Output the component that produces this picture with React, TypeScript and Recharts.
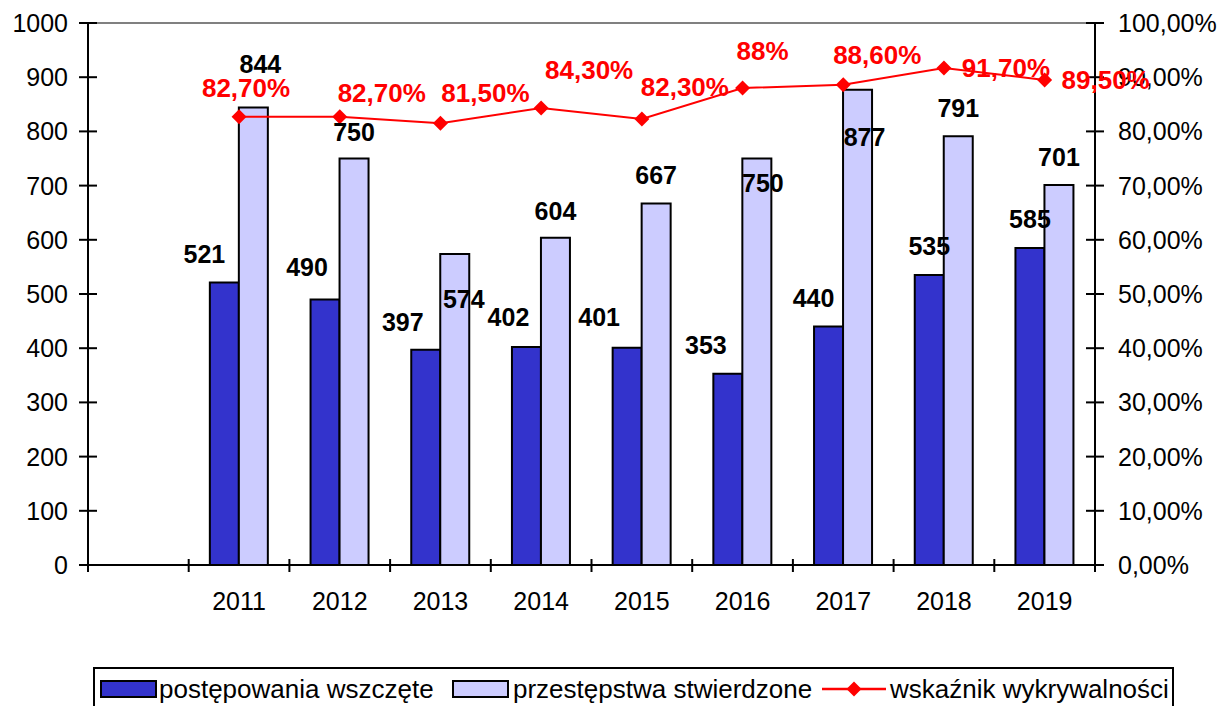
import React from 'react';
import { ComposedChart, Bar, Line, XAxis, YAxis, ReferenceLine, LabelList } from 'recharts';

// ---- data ----
const categories = ['', '2011', '2012', '2013', '2014', '2015', '2016', '2017', '2018', '2019'];
const postepowaniaWszczete = [null, 521, 490, 397, 402, 401, 353, 440, 535, 585];
const przestepstwaStwierdzone = [null, 844, 750, 574, 604, 667, 750, 877, 791, 701];
const wskaznikWykrywalnosci = [null, 0.827, 0.827, 0.815, 0.843, 0.823, 0.88, 0.886, 0.917, 0.895];
const wskaznikLabels = ['', '82,70%', '82,70%', '81,50%', '84,30%', '82,30%', '88%', '88,60%', '91,70%', '89,50%'];
const leftTicks = [0, 100, 200, 300, 400, 500, 600, 700, 800, 900, 1000];
const rightTicks = [0, 0.1, 0.2, 0.3, 0.4, 0.5, 0.6, 0.7, 0.8, 0.9, 1];

// label placement offsets (dx, dy) relative to bar top centre / line point, as placed in the source
const darkLabelShift: [number, number][] = [[0, 0], [-20, -29], [-18, -32], [-23, -28], [-18, -30], [-28, -31], [-22, -29], [-15, -29], [0, -29], [0, -29]];
const lightLabelShift: [number, number][] = [[0, 0], [7, -44], [0, -27], [9, 45], [0, -27], [0, -28], [6, 24], [7, 47], [0, -28], [0, -28]];
const lineLabelShift: [number, number][] = [[0, 0], [7, -29], [42, -24], [45, -30], [48, -38], [43, -32], [20, -37], [34, -30], [62, 0], [61, 0]];

const data = categories.map((c, i) => ({
  year: c,
  wszczete: postepowaniaWszczete[i],
  stwierdzone: przestepstwaStwierdzone[i],
  wskaznik: wskaznikWykrywalnosci[i],
}));

// ---- layout ----
const W = 1224;
const H = 706;
const MARGIN = { top: 23, right: 49, bottom: 101, left: 8 };
const Y_W = 80;
const X_H = 40;
const PLOT_LEFT = MARGIN.left + Y_W;
const PLOT_W = W - MARGIN.left - MARGIN.right - 2 * Y_W;
const BAND = PLOT_W / categories.length;
const FONT = '"Liberation Sans", Arial, Helvetica, sans-serif';
const DARK = '#3333CC';
const LIGHT = '#CCCCFF';
const RED = '#FF0000';

const fmtPct = (v: number) => (v * 100).toFixed(2).replace('.', ',') + '%';
const catIndexAt = (x: number) => Math.max(0, Math.min(categories.length - 1, Math.floor((x - PLOT_LEFT) / BAND)));

const LeftTick = (p: any) => {
  const { x, y, payload } = p;
  return (
    <g>
      <line x1={x + 11} x2={x + 11 + 18} y1={y} y2={y} stroke="#000" strokeWidth={2} />
      <text x={x} y={y} textAnchor="end" dominantBaseline="central" fontSize={25} fontFamily={FONT} fill="#000">
        {payload.value}
      </text>
    </g>
  );
};

const RightTick = (p: any) => {
  const { x, y, payload } = p;
  return (
    <g>
      <line x1={x - 14 - 18} x2={x - 14} y1={y} y2={y} stroke="#000" strokeWidth={2} />
      <text x={x} y={y} textAnchor="start" dominantBaseline="central" fontSize={25} fontFamily={FONT} fill="#000">
        {fmtPct(payload.value)}
      </text>
    </g>
  );
};

const BottomTick = (p: any) => {
  const { x, y, payload, index } = p;
  const left = x - BAND / 2;
  const right = x + BAND / 2;
  const last = index === categories.length - 1;
  return (
    <g>
      <line x1={left} x2={left} y1={y - 6} y2={y + 7} stroke="#000" strokeWidth={2} />
      {last && <line x1={right} x2={right} y1={y - 6} y2={y + 7} stroke="#000" strokeWidth={2} />}
      <text x={x} y={y + 36} textAnchor="middle" dominantBaseline="central" fontSize={25} fontFamily={FONT} fill="#000">
        {payload.value}
      </text>
    </g>
  );
};

const makeBarLabel = (shifts: [number, number][]) => (p: any) => {
  const vb = p.viewBox || p;
  if (p.value == null || vb.x == null) return null;
  const barCx = vb.x + vb.width / 2;
  const idx = catIndexAt(barCx);
  const [dx, dy] = shifts[idx] || [0, 0];
  const top = vb.height < 0 ? vb.y + vb.height : vb.y;
  return (
    <text x={barCx + dx} y={top + dy} textAnchor="middle" dominantBaseline="central" fontSize={25} fontWeight="bold" fontFamily={FONT} fill="#000">
      {p.value}
    </text>
  );
};

const LineLabel = (p: any) => {
  const vb = p.viewBox || p;
  if (p.value == null || vb.x == null) return null;
  const idx = catIndexAt(vb.x);
  const [dx, dy] = lineLabelShift[idx] || [0, 0];
  return (
    <text x={vb.x + dx} y={vb.y + dy} textAnchor="middle" dominantBaseline="central" fontSize={26} fontWeight="bold" fontFamily={FONT} fill={RED}>
      {wskaznikLabels[idx]}
    </text>
  );
};

const Diamond = (p: any) => {
  const { cx, cy, value, index } = p;
  if (value == null || cx == null || cy == null) return <g key={`d${index}`} />;
  const r = 7.5;
  return <path key={`d${index}`} d={`M${cx},${cy - r}L${cx + r},${cy}L${cx},${cy + r}L${cx - r},${cy}Z`} fill={RED} />;
};

const Legend = () => {
  const txt: React.CSSProperties = {
    position: 'absolute',
    top: 0,
    height: 40,
    lineHeight: '40px',
    fontSize: 26,
    fontFamily: FONT,
    color: '#000',
    whiteSpace: 'nowrap',
  };
  const sw = (left: number, color: string): React.CSSProperties => ({
    position: 'absolute',
    left,
    top: 11,
    width: 53,
    height: 14,
    background: color,
    border: '2px solid #000',
  });
  return (
    <div
      style={{
        position: 'absolute',
        left: 93,
        top: 667,
        width: 1077,
        height: 60,
        border: '2px solid #000',
        background: '#fff',
      }}
    >
      <div style={sw(5, DARK)} />
      <div style={{ ...txt, left: 64 }}>postępowania wszczęte</div>
      <div style={sw(357, LIGHT)} />
      <div style={{ ...txt, left: 418 }}>przestępstwa stwierdzone</div>
      <svg style={{ position: 'absolute', left: 725, top: 6 }} width={68} height={28}>
        <line x1={2} x2={66} y1={14} y2={14} stroke={RED} strokeWidth={2.5} />
        <path d="M34,6.5L41.5,14L34,21.5L26.5,14Z" fill={RED} />
      </svg>
      <div style={{ ...txt, left: 795 }}>wskaźnik wykrywalności</div>
    </div>
  );
};

export default function App() {
  return (
    <div style={{ position: 'fixed', left: 0, top: 0, width: W, height: H, overflow: 'hidden', background: '#fff' }}>
      <ComposedChart
        width={W}
        height={H}
        data={data}
        margin={MARGIN}
        barCategoryGap="21%"
        barGap={0}
      >
        <XAxis
          dataKey="year"
          xAxisId="x"
          height={X_H}
          axisLine={{ stroke: '#000', strokeWidth: 2 }}
          tickLine={false}
          tickSize={0}
          tickMargin={0}
          interval={0}
          tick={<BottomTick />}
        />
        <YAxis
          yAxisId="left"
          orientation="left"
          width={Y_W}
          domain={[0, 1000]}
          ticks={leftTicks}
          interval={0}
          axisLine={{ stroke: '#000', strokeWidth: 2 }}
          tickLine={false}
          tickSize={9}
          tickMargin={11}
          tick={<LeftTick />}
        />
        <YAxis
          yAxisId="right"
          orientation="right"
          width={Y_W}
          domain={[0, 1]}
          ticks={rightTicks}
          interval={0}
          axisLine={{ stroke: '#000', strokeWidth: 2 }}
          tickLine={false}
          tickSize={9}
          tickMargin={14}
          tick={<RightTick />}
        />
        <ReferenceLine xAxisId="x" yAxisId="left" y={1000} stroke="#808080" strokeWidth={2} />
        <Bar
          xAxisId="x"
          yAxisId="left"
          dataKey="wszczete"
          name="postępowania wszczęte"
          fill={DARK}
          stroke="#000"
          strokeWidth={2}
          isAnimationActive={false}
        >
          <LabelList dataKey="wszczete" content={makeBarLabel(darkLabelShift)} />
        </Bar>
        <Bar
          xAxisId="x"
          yAxisId="left"
          dataKey="stwierdzone"
          name="przestępstwa stwierdzone"
          fill={LIGHT}
          stroke="#000"
          strokeWidth={2}
          isAnimationActive={false}
        >
          <LabelList dataKey="stwierdzone" content={makeBarLabel(lightLabelShift)} />
        </Bar>
        <Line
          xAxisId="x"
          yAxisId="right"
          dataKey="wskaznik"
          name="wskaźnik wykrywalności"
          stroke={RED}
          strokeWidth={2}
          dot={<Diamond />}
          activeDot={false}
          isAnimationActive={false}
        >
          <LabelList dataKey="wskaznik" content={<LineLabel />} />
        </Line>
      </ComposedChart>
      <Legend />
    </div>
  );
}
